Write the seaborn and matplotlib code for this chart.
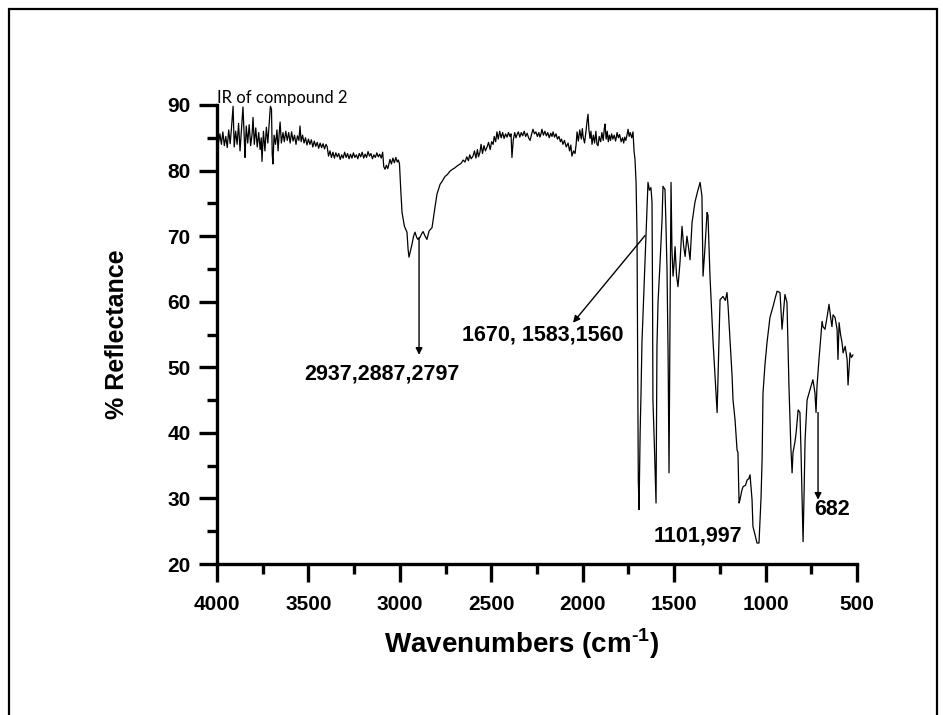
import numpy as np
import pandas as pd
import matplotlib
matplotlib.use("Agg")
import matplotlib.pyplot as plt
from matplotlib.patches import Rectangle
from matplotlib.ticker import MultipleLocator
import seaborn as sns

# Spectrum (wavenumber in cm-1, % reflectance)
wavenumber = [
    4000, 3992, 3984, 3976, 3968, 3960, 3952, 3944, 3936, 3928, 3920, 3912, 3906, 3898, 3890, 3882,
    3874, 3866, 3858, 3850, 3847, 3840, 3832, 3824, 3816, 3808, 3803, 3796, 3788, 3780, 3772, 3764,
    3758, 3754, 3746, 3738, 3730, 3722, 3714, 3708, 3702, 3698, 3694, 3688, 3680, 3672, 3666, 3660,
    3655, 3648, 3639, 3632, 3624, 3616, 3608, 3600, 3592, 3584, 3576, 3568, 3560, 3552, 3546, 3540,
    3532, 3524, 3516, 3508, 3500, 3492, 3484, 3476, 3468, 3460, 3452, 3444, 3436, 3428, 3420, 3412,
    3404, 3398, 3390, 3382, 3374, 3366, 3358, 3350, 3342, 3334, 3326, 3318, 3310, 3302, 3294, 3286,
    3278, 3270, 3262, 3254, 3246, 3238, 3230, 3222, 3214, 3206, 3198, 3190, 3182, 3174, 3166, 3158,
    3150, 3142, 3134, 3126, 3118, 3110, 3102, 3094, 3088, 3081, 3074, 3066, 3058, 3054, 3046, 3038,
    3030, 3022, 3014, 3008, 3002,
    2995, 2988, 2975, 2961, 2955, 2950, 2944, 2934, 2925, 2917, 2908, 2901, 2890, 2880, 2873, 2862,
    2852, 2840, 2824, 2808, 2797, 2780, 2768, 2753, 2740, 2726, 2712, 2700, 2687, 2676, 2665, 2654,
    2644, 2634, 2625, 2618, 2610, 2600, 2592, 2584, 2576, 2570, 2562, 2556, 2548, 2540, 2532, 2523,
    2515, 2506, 2498, 2490, 2484, 2476, 2469, 2462, 2454, 2446, 2438, 2430, 2422, 2414, 2406, 2398,
    2392, 2387, 2380, 2372, 2365, 2359, 2352, 2344, 2336, 2328, 2320, 2312, 2304, 2296, 2288, 2280,
    2272, 2264, 2256, 2248, 2240, 2234, 2228, 2223, 2215, 2207, 2199, 2191, 2183, 2175, 2168, 2162,
    2154, 2146, 2138, 2130, 2122, 2116, 2108, 2100, 2090, 2080, 2072, 2065, 2059, 2050, 2042, 2036,
    2031, 2024, 2016, 2008, 2002, 1998, 1990, 1982, 1976, 1971, 1966, 1960, 1955, 1949, 1942, 1935,
    1928, 1922, 1916, 1910, 1902, 1895, 1888, 1882, 1878, 1872, 1866, 1860, 1854, 1848, 1842, 1835,
    1828, 1820, 1812, 1805, 1798, 1790, 1782, 1776, 1770, 1764, 1758, 1752, 1746, 1740, 1732, 1725,
    1719, 1714, 1708,
    1703, 1699, 1696, 1692, 1686, 1681, 1676, 1665, 1660, 1654, 1648, 1643, 1635, 1627, 1621, 1618,
    1616, 1608, 1599, 1594, 1588, 1577, 1566, 1561, 1550, 1545, 1539, 1533, 1528, 1522, 1517, 1512,
    1506, 1501, 1495, 1487, 1479, 1468, 1457, 1448, 1440, 1430, 1420, 1413, 1402, 1386, 1372, 1358,
    1348, 1342, 1332, 1320, 1315, 1304, 1287, 1265, 1257, 1249, 1233, 1220, 1211, 1205, 1194, 1183,
    1178, 1167, 1156, 1151, 1145, 1140, 1130, 1123, 1110, 1101, 1092, 1085, 1074, 1069, 1058, 1047,
    1036, 1025, 1019, 1014, 1003, 992, 976, 959, 948, 937, 921, 915, 910, 902, 894, 883,
    872, 862, 855, 850, 840, 833, 822, 812, 806, 801, 795, 790, 784, 773, 765, 757,
    741, 730, 724, 719, 708, 700, 691, 686, 675, 664, 653, 645, 637, 631, 620, 609,
    604, 598, 590, 582, 576, 565, 554, 549, 538, 530, 522,
]
reflectance = [
    85.0, 84.2, 85.6, 84.0, 85.9, 83.8, 85.2, 83.5, 86.2, 84.1, 86.8, 89.8, 83.6, 86.0, 84.0, 87.2,
    83.0, 86.4, 89.7, 84.4, 82.0, 86.8, 84.2, 87.0, 83.8, 85.6, 88.1, 84.0, 86.5, 83.6, 85.8, 83.2,
    85.0, 81.4, 86.0, 83.0, 86.6, 84.2, 87.4, 89.8, 89.4, 82.5, 81.0, 85.4, 84.0, 86.2, 83.0, 85.6,
    87.4, 84.2, 85.8, 84.4, 86.0, 84.6, 85.8, 84.2, 85.9, 84.5, 85.4, 84.0, 85.3, 84.6, 86.8, 84.4,
    85.4, 84.2, 85.0, 83.9, 84.8, 84.0, 84.7, 83.6, 84.5, 83.7, 84.3, 83.4, 84.2, 83.5, 84.1, 83.3,
    84.0, 83.7, 82.2, 83.0, 82.0, 82.8, 81.9, 82.7, 82.1, 82.6, 81.7, 82.4, 81.9, 82.8, 82.0, 82.6,
    81.8, 82.5, 81.9, 82.7, 82.0, 82.4, 81.8, 82.6, 82.1, 82.8, 81.9, 82.5, 82.0, 82.9, 82.2, 82.6,
    81.8, 82.4, 82.0, 82.7, 82.1, 82.5, 81.9, 82.8, 80.6, 80.2, 80.8, 80.3, 81.2, 81.7, 81.0, 81.9,
    81.2, 82.0, 81.3, 81.6, 81.0,
    77.0, 73.6, 71.5, 70.6, 68.0, 66.8, 67.5, 68.7, 70.0, 70.6, 69.8, 69.5, 69.8, 70.4, 70.7, 70.0,
    69.5, 70.8, 71.3, 74.4, 76.4, 77.9, 78.4, 79.1, 79.4, 79.9, 80.2, 80.4, 80.7, 80.9, 81.1, 81.6,
    81.3, 82.1, 81.5, 82.4, 81.8, 82.2, 83.0, 81.9, 83.2, 82.1, 82.8, 84.0, 82.6, 83.8, 83.0, 83.6,
    84.3, 83.2, 84.4, 84.0, 85.2, 84.4, 85.9, 84.8, 86.0, 85.0, 85.8, 84.9, 85.6, 85.1, 85.8, 85.2,
    85.6, 82.0, 84.6, 85.8, 85.0, 85.5, 85.9, 85.1, 85.8, 85.3, 86.0, 85.2, 85.7, 85.0, 84.6, 85.5,
    86.3, 85.6, 85.9, 85.2, 85.8, 85.1, 85.6, 86.3, 85.4, 86.0, 85.3, 85.8, 85.0, 85.7, 85.2, 85.9,
    85.1, 85.6, 84.8, 85.2, 84.4, 84.8, 84.0, 84.6, 83.6, 84.2, 83.0, 83.9, 82.2, 83.0, 82.6, 84.0,
    85.9, 84.5, 86.2, 84.8, 86.4, 85.2, 84.2, 86.0, 87.6, 88.6, 86.2, 84.9, 86.0, 84.0, 85.4, 84.2,
    86.0, 84.0, 83.8, 85.2, 84.4, 85.8, 84.6, 86.4, 87.1, 84.8, 86.0, 84.4, 85.4, 84.6, 85.6, 84.8,
    85.4, 84.5, 85.8, 85.0, 85.5, 84.4, 85.0, 84.2, 85.1, 84.6, 85.4, 86.3, 85.2, 85.8, 85.0, 85.9,
    82.9, 81.7, 78.0,
    70.0, 49.6, 32.8, 28.3, 40.0, 46.3, 53.8, 61.9, 66.0, 70.0, 74.0, 78.2, 77.0, 77.4, 75.2, 60.0,
    45.0, 38.0, 29.3, 53.2, 60.0, 66.0, 72.6, 77.6, 77.1, 72.0, 64.9, 51.6, 33.9, 60.0, 78.2, 68.0,
    63.9, 65.5, 68.4, 64.0, 62.3, 66.0, 71.5, 68.5, 66.9, 70.0, 68.0, 66.4, 72.1, 75.2, 76.8, 78.2,
    76.1, 63.9, 68.0, 73.6, 73.2, 63.9, 53.8, 43.1, 52.0, 60.3, 60.8, 60.2, 61.4, 59.3, 53.8, 48.6,
    45.0, 42.0, 37.4, 37.0, 29.3, 29.8, 31.2, 31.8, 32.0, 32.8, 33.0, 33.6, 29.8, 25.7, 24.5, 23.2,
    23.2, 30.0, 35.9, 46.1, 50.5, 53.8, 57.6, 59.3, 60.5, 61.6, 61.4, 58.5, 55.8, 58.5, 61.1, 59.9,
    47.0, 38.0, 33.9, 37.0, 38.5, 40.0, 43.5, 43.1, 37.0, 30.8, 23.4, 30.0, 38.9, 45.0, 45.8, 46.6,
    48.1, 46.1, 43.1, 47.0, 51.2, 54.0, 57.0, 56.2, 55.8, 57.6, 59.6, 57.8, 56.2, 58.0, 57.6, 55.8,
    51.2, 56.8, 55.0, 53.8, 52.2, 53.2, 51.2, 47.3, 52.2, 51.5, 51.9,
]

x_ticks = [4000, 3500, 3000, 2500, 2000, 1500, 1000, 500]
y_ticks = [20, 30, 40, 50, 60, 70, 80, 90]

# peak labels: (text, text position, arrow tail, arrow head)
peak_labels = ["2937,2887,2797", "1670, 1583,1560", "1101,997", "682"]
label_xy = [(3098, 48.9), (2217, 55.0), (1370, 24.3), (637, 28.3)]
arrow_from = [(2895, 69.8), (1659, 70.1), None, (713, 43.1)]
arrow_to = [(2895, 51.9), (2053, 56.8), None, (713, 29.8)]

df = pd.DataFrame({"wn": wavenumber, "refl": reflectance})

sns.set_style("ticks")
plt.rcParams["font.family"] = ["Liberation Sans", "DejaVu Sans"]
plt.rcParams["text.color"] = "black"
plt.rcParams["axes.labelcolor"] = "black"
plt.rcParams["xtick.color"] = "black"
plt.rcParams["ytick.color"] = "black"
plt.rcParams["mathtext.fontset"] = "custom"
plt.rcParams["mathtext.rm"] = "Liberation Sans:bold"
plt.rcParams["mathtext.bf"] = "Liberation Sans:bold"

fig = plt.figure(figsize=(9.43, 7.15), dpi=100)
ax = fig.add_axes([217 / 943, 1 - 564 / 715, 640 / 943, 459 / 715])

sns.lineplot(data=df, x="wn", y="refl", ax=ax, estimator=None, sort=False,
             color="black", lw=0.9)

ax.set_xlim(4000, 500)
ax.set_ylim(20, 90)
ax.set_xticks(x_ticks)
ax.set_yticks(y_ticks)
ax.xaxis.set_minor_locator(MultipleLocator(250))
ax.yaxis.set_minor_locator(MultipleLocator(5))
ax.tick_params(which="major", direction="out", length=13, width=2.4, labelsize=15)
ax.tick_params(which="minor", direction="out", length=7, width=2.4)
ax.tick_params(axis="x", which="major", pad=9)
ax.tick_params(axis="y", which="major", pad=6)
for lab in ax.get_xticklabels() + ax.get_yticklabels():
    lab.set_fontweight("bold")
    lab.set_color("black")

for side in ["top", "right"]:
    ax.spines[side].set_visible(False)
for side in ["left", "bottom"]:
    ax.spines[side].set_linewidth(2.4)
    ax.spines[side].set_color("black")

ax.set_xlabel("Wavenumbers (cm$^{\\text{-1}}$)", fontsize=20, fontweight="bold")
ax.xaxis.set_label_coords(0.475, -0.137)
ax.set_ylabel("% Reflectance", fontsize=18, fontweight="bold")
ax.yaxis.set_label_coords(-0.138, 0.5)

ax.text(0.0, 0.998, "IR of compound 2", transform=ax.transAxes, family="Lato",
        fontsize=12, ha="left", va="bottom")

for txt, pos, a0, a1 in zip(peak_labels, label_xy, arrow_from, arrow_to):
    ax.text(pos[0], pos[1], txt, fontsize=15.5, fontweight="bold", ha="center", va="center")
    if a0 is not None:
        ax.annotate("", xy=a1, xytext=a0,
                    arrowprops=dict(arrowstyle="-|>", color="black", lw=1.0,
                                    mutation_scale=10, shrinkA=0, shrinkB=0))

# outer frame around the whole picture
fig.add_artist(Rectangle((9 / 943, -0.1), 928 / 943, 1.1 - 9 / 715, fill=False,
                         lw=1.6, edgecolor="black", transform=fig.transFigure))

fig.savefig("out.png", dpi=100, facecolor="white")
